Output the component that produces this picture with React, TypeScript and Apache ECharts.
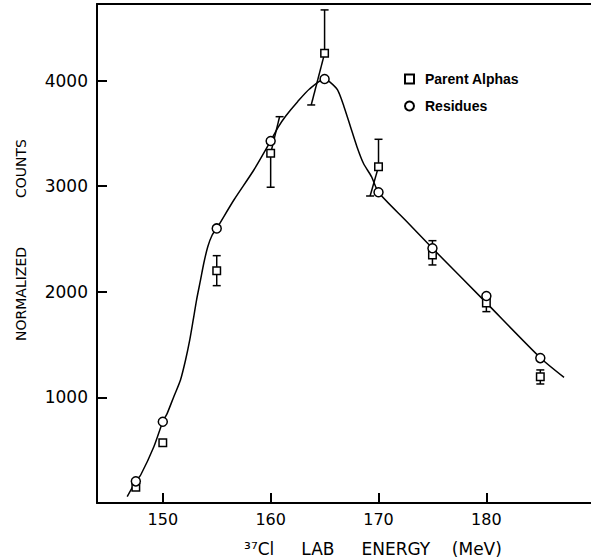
import React, { useEffect, useRef } from "react";
import * as echarts from "echarts";

// Beam energies (MeV)
const energies = [147.5, 150, 155, 160, 165, 170, 175, 180, 185];
// Residues (circles)
const residues = [205, 770, 2600, 3428, 4015, 2942, 2412, 1960, 1372];
// Parent alphas (squares) with error bars
const alphas = [150, 570, 2200, 3311, 4258, 3185, 2348, 1893, 1196];
const alphaLow = [null, null, 2058, 2990, 3769, 2907, 2254, 1812, 1127];
const alphaHigh = [null, null, 2342, 3658, 4669, 3444, 2484, 1965, 1260];
// energy at which each error-bar end is drawn (some bars are drawn slanted)
const alphaLowE = [null, null, 155, 160, 163.76, 169.22, 175, 180, 185];
const alphaHighE = [null, null, 155, 160.83, 165, 170, 175, 180, 185];

// Hand-drawn fit curve
const curveE = [146.7, 147.5, 147.95, 149.17, 150, 150.41, 151.02, 151.64, 152.11, 152.5, 152.82, 153.13, 153.5, 153.8, 154.17, 154.58, 155, 156.59, 158.44, 160, 160.7, 161.4, 162.5, 163.6, 165, 165.45, 166.2, 166.8, 167.4, 168.0, 168.6, 169.35, 170, 172.5, 175, 180, 185, 187.2];
const curveCounts = [60, 205, 265, 533, 770, 849, 1007, 1165, 1354, 1544, 1733, 1922, 2112, 2270, 2427, 2538, 2600, 2869, 3153, 3428, 3560, 3665, 3800, 3920, 4015, 3990, 3911, 3753, 3563, 3374, 3217, 3090, 2942, 2677, 2412, 1895, 1376, 1190];

const xTicks = [150, 160, 170, 180];
const yTicks = [1000, 2000, 3000, 4000];

const FONT = "DejaVu Sans";

export default function App() {
  const ref = useRef<HTMLDivElement>(null);
  useEffect(() => {
    document.body.style.margin = "0";
    const chart = echarts.init(ref.current!, null, { renderer: "svg" });
    const errData: any[] = [];
    energies.forEach((e, i) => {
      if (alphaLow[i] != null) {
        errData.push([e, alphas[i], alphaLow[i], alphaHigh[i], alphaLowE[i], alphaHighE[i]]);
      }
    });
    const axisLineStyle = { color: "#000", width: 2 };
    chart.setOption({
      animation: false,
      backgroundColor: "#fff",
      grid: { left: 97, right: 0, top: 4, bottom: 55 },
      legend: {
        orient: "vertical",
        left: 399,
        top: 67,
        itemWidth: 9,
        itemHeight: 9,
        itemGap: 13,
        selectedMode: false,
        textStyle: { fontFamily: "Liberation Sans", fontWeight: "bold", fontSize: 14, color: "#000", padding: [0, 0, 0, 6] },
        data: [
          { name: "Parent Alphas", icon: "rect" },
          { name: "Residues", icon: "circle" },
        ],
      },
      xAxis: [
        {
          type: "value",
          min: 143.9,
          max: 189.7,
          axisLine: { show: true, onZero: false, lineStyle: axisLineStyle },
          axisTick: { show: true, inside: true, length: 10, lineStyle: axisLineStyle, customValues: xTicks },
          axisLabel: { customValues: xTicks, margin: 8, fontSize: 16, color: "#000", fontFamily: FONT, formatter: (v: number) => String(v) },
          splitLine: { show: false },
        },
        {
          type: "value",
          position: "top",
          min: 143.9,
          max: 189.7,
          axisLine: { show: true, onZero: false, lineStyle: axisLineStyle },
          axisTick: { show: false },
          axisLabel: { show: false },
          splitLine: { show: false },
        },
      ],
      yAxis: {
        type: "value",
        min: 0,
        max: 4725,
        axisLine: { show: true, onZero: false, lineStyle: axisLineStyle },
        axisTick: { show: true, inside: true, length: 10, lineStyle: axisLineStyle, customValues: yTicks },
        axisLabel: { customValues: yTicks, margin: 9, fontSize: 17, color: "#000", fontFamily: FONT, formatter: (v: number) => String(v) },
        splitLine: { show: false },
      },
      graphic: [
        {
          type: "text",
          x: 373,
          y: 549,
          style: {
            text: "³⁷Cl     LAB     ENERGY    (MeV)",
            font: `17px '${FONT}'`,
            fill: "#000",
            align: "center",
            verticalAlign: "middle",
          },
        },
        {
          type: "text",
          x: 20.5,
          y: 240,
          rotation: Math.PI / 2,
          style: {
            text: "NORMALIZED           COUNTS",
            font: `14px '${FONT}'`,
            fill: "#000",
            align: "center",
            verticalAlign: "middle",
          },
        },
      ],
      series: [
        {
          type: "line",
          data: curveE.map((e, i) => [e, curveCounts[i]]),
          smooth: 0.25,
          showSymbol: false,
          symbol: "none",
          lineStyle: { color: "#000", width: 1.5 },
          silent: true,
          z: 1,
        },
        {
          type: "custom",
          data: errData,
          z: 2,
          silent: true,
          renderItem: (params: any, api: any) => {
            const p = api.coord([api.value(0), api.value(1)]);
            const lo = api.coord([api.value(4), api.value(2)]);
            const hi = api.coord([api.value(5), api.value(3)]);
            const cap = 4;
            const st = { stroke: "#000", lineWidth: 1.5 };
            return {
              type: "group",
              children: [
                { type: "line", shape: { x1: p[0], y1: p[1], x2: hi[0], y2: hi[1] }, style: st },
                { type: "line", shape: { x1: hi[0] - cap, y1: hi[1], x2: hi[0] + cap, y2: hi[1] }, style: st },
                { type: "line", shape: { x1: p[0], y1: p[1], x2: lo[0], y2: lo[1] }, style: st },
                { type: "line", shape: { x1: lo[0] - cap, y1: lo[1], x2: lo[0] + cap, y2: lo[1] }, style: st },
              ],
            };
          },
        },
        {
          name: "Parent Alphas",
          type: "scatter",
          symbol: "rect",
          symbolSize: 7.5,
          data: energies.map((e, i) => [e, alphas[i]]),
          itemStyle: { color: "#fff", borderColor: "#000", borderWidth: 1.5, opacity: 1 },
          z: 3,
        },
        {
          name: "Residues",
          type: "scatter",
          symbol: "circle",
          symbolSize: 9,
          data: energies.map((e, i) => [e, residues[i]]),
          itemStyle: { color: "#fff", borderColor: "#000", borderWidth: 1.5, opacity: 1 },
          z: 4,
        },
      ],
    });
    return () => chart.dispose();
  }, []);
  return <div ref={ref} style={{ position: "absolute", left: 0, top: 0, width: 591, height: 558 }} />;
}
